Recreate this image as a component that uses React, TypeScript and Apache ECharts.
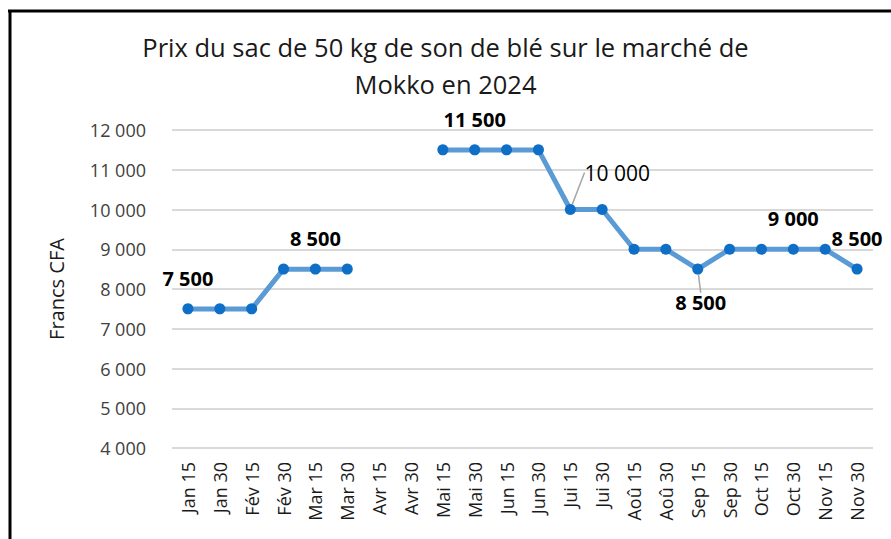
import React, { useEffect, useRef } from "react";
import * as echarts from "echarts";

const titleLines = ["Prix du sac de 50 kg de son de blé sur le marché de", "Mokko en 2024"];
const yAxisName = "Francs CFA";
const categories = [
  "Jan 15", "Jan 30", "Fév 15", "Fév 30", "Mar 15", "Mar 30", "Avr 15", "Avr 30",
  "Mai 15", "Mai 30", "Jun 15", "Jun 30", "Jui 15", "Jui 30", "Aoû 15", "Aoû 30",
  "Sep 15", "Sep 30", "Oct 15", "Oct 30", "Nov 15", "Nov 30",
];
const prices: (number | null)[] = [
  7500, 7500, 7500, 8500, 8500, 8500, null, null,
  11500, 11500, 11500, 11500, 10000, 10000, 9000, 9000,
  8500, 9000, 9000, 9000, 9000, 8500,
];
const labelledTop = [0, 4, 9, 19, 21];
const labelledOffset = [12];
const labelledBelow = [16];
const yMin = 4000;
const yMax = 12000;
const yStep = 1000;

const FONT = "Open Sans";

function fmt(v: number): string {
  return String(v).replace(/\B(?=(\d{3})+(?!\d))/g, " ");
}

export default function App() {
  const ref = useRef<HTMLDivElement>(null);
  useEffect(() => {
    if (!ref.current) return;
    const chart = echarts.init(ref.current, undefined, { renderer: "svg" });
    const guide = { show: true, length2: 0, lineStyle: { color: "#a6a6a6", width: 1.5 } };
    const data = prices.map((v, i) => {
      const item: any = { value: v };
      if (labelledTop.includes(i)) {
        item.label = { show: true, position: "top", distance: 15 };
      } else if (labelledOffset.includes(i)) {
        item.label = { show: true, position: "top", distance: 15, fontWeight: "normal", fontSize: 21 };
        item.labelLine = guide;
      } else if (labelledBelow.includes(i)) {
        item.label = { show: true, position: "bottom", distance: 5 };
        item.labelLine = guide;
      }
      return item;
    });
    chart.setOption({
      animation: false,
      backgroundColor: "#ffffff",
      title: {
        text: titleLines.join("\n"),
        left: "center",
        top: 28,
        padding: 0,
        textStyle: {
          fontFamily: FONT,
          fontSize: 25.5,
          fontWeight: "normal",
          color: "#1a1a1a",
          lineHeight: 37,
        },
      },
      graphic: [
        { type: "line", shape: { x1: 8, y1: 11, x2: 891, y2: 11 }, style: { stroke: "#000", lineWidth: 3 } },
        { type: "line", shape: { x1: 10, y1: 10, x2: 10, y2: 539 }, style: { stroke: "#000", lineWidth: 3 } },
      ],
      grid: { left: 172, right: 18, top: 130, bottom: 91, containLabel: false },
      xAxis: {
        type: "category",
        data: categories,
        boundaryGap: true,
        axisLine: { show: false },
        axisTick: { show: false },
        axisLabel: {
          rotate: 90,
          interval: 0,
          margin: 14,
          fontFamily: FONT,
          fontSize: 18,
          color: "#1a1a1a",
        },
      },
      yAxis: {
        type: "value",
        min: yMin,
        max: yMax,
        interval: yStep,
        name: yAxisName,
        nameLocation: "middle",
        nameGap: 106,
        nameTextStyle: { fontFamily: FONT, fontSize: 20, color: "#1a1a1a" },
        axisLine: { show: false },
        axisTick: { show: false },
        splitLine: { lineStyle: { color: "#d9d9d9", width: 2 } },
        axisLabel: {
          margin: 26,
          fontFamily: FONT,
          fontSize: 18,
          color: "#404040",
          formatter: (v: number) => fmt(v),
        },
      },
      series: [
        {
          type: "line",
          data,
          connectNulls: false,
          symbol: "circle",
          symbolSize: 11,
          lineStyle: { color: "#5B9BD5", width: 5 },
          itemStyle: { color: "#0F6FC6" },
          label: {
            show: false,
            fontFamily: FONT,
            fontSize: 20,
            fontWeight: "bold",
            color: "#000",
            formatter: (p: any) => fmt(p.value),
          },
          labelLine: { show: false },
          labelLayout: (p: any) => {
            if (p.dataIndex === 12) return { dx: 47, dy: -6 };
            if (p.dataIndex === 16) return { dx: 3, dy: 13 };
            return {};
          },
        },
      ],
    });
    return () => chart.dispose();
  }, []);
  return (
    <div
      ref={ref}
      style={{ position: "fixed", left: 0, top: 0, width: 891, height: 539 }}
    />
  );
}
